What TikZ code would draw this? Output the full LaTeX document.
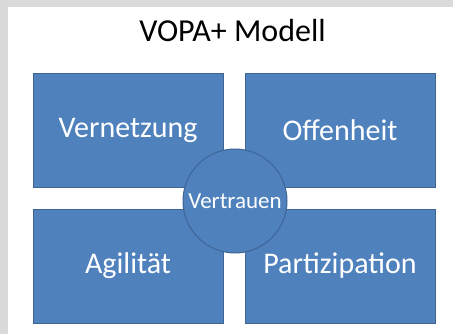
\documentclass[tikz,border=0pt]{standalone}
\usepackage{fontspec}
\setmainfont{Carlito}
\definecolor{boxblue}{RGB}{79,129,189}
\definecolor{boxline}{RGB}{62,101,150}
\definecolor{framegray}{RGB}{218,218,218}

\begin{document}
\begin{tikzpicture}[x=1pt,y=-1pt]
\tikzstyle{field}=[rectangle, minimum width=190pt, minimum height=114pt, inner sep=0pt, fill=boxblue, draw=boxline, line width=0.8pt, text=white, font=\fontsize{30}{36}\selectfont]
\tikzstyle{core}=[circle, minimum size=104pt, inner sep=0pt, fill=boxblue, draw=boxline, line width=1pt, text=white, font=\fontsize{23}{28}\selectfont]
\tikzstyle{heading}=[anchor=base, inner sep=0pt, font=\fontsize{32}{38}\selectfont]

% frame and page
\useasboundingbox (0,0) rectangle (453,334);
\fill[framegray] (0,0) rectangle (453,334);
\fill[white] (8,7) rectangle (453,334);

\node[heading] (title) at (232.5,42) {VOPA+ Modell};

\node[field] (vern) at (128,130) {Vernetzung};
\node[field] (offen) at (340,130) {Offenheit};
\node[field] (agil) at (128,266) {Agilität};
\node[field] (parti) at (340,266) {Partizipation};
%\node[core] (trust) at (234,198) {Vertrauen};
\node[core] (trust) at (235,201) {Vertrauen};

\end{tikzpicture}
\end{document}
